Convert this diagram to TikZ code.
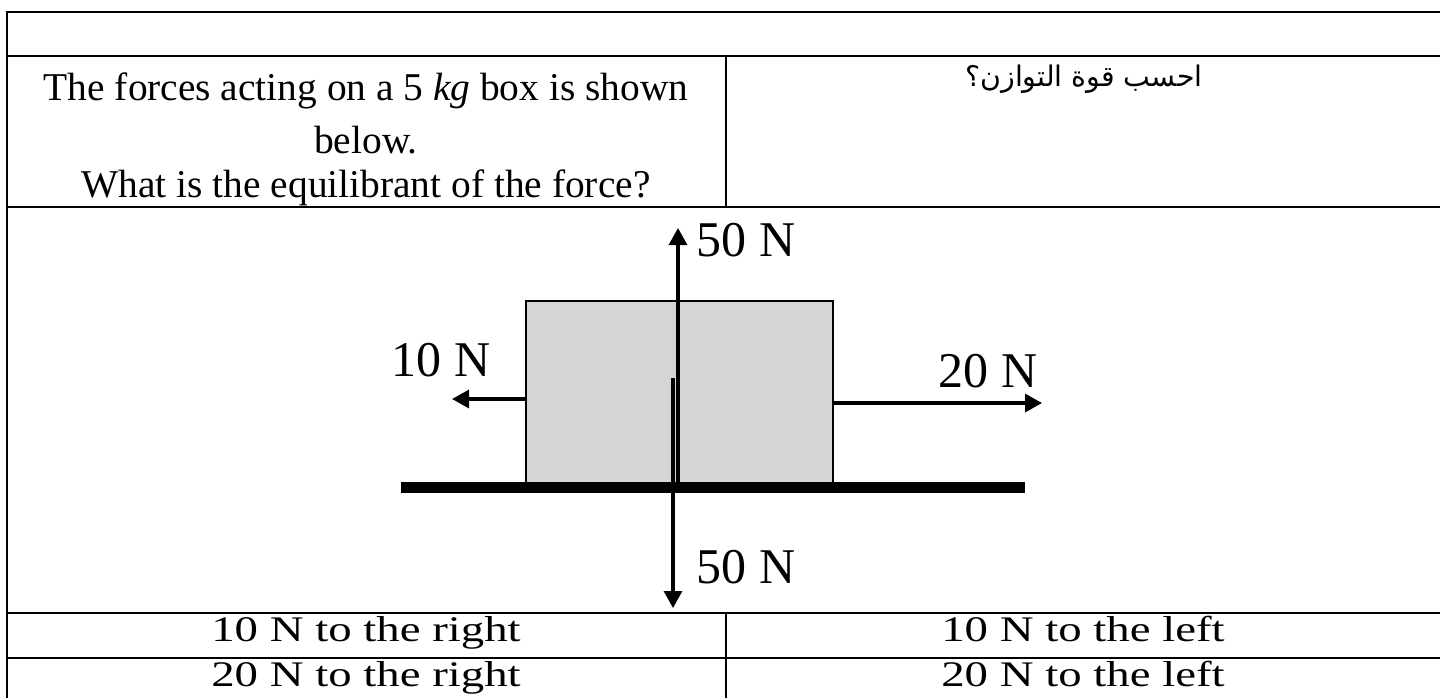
\documentclass[tikz,border=0pt]{standalone}
\usepackage{fontspec}
\setmainfont{Liberation Serif}
\newfontfamily\arabicfont[Script=Arabic]{DejaVu Sans}
\newfontfamily\ansfont[FakeStretch=1.3]{Liberation Serif}
\TeXXeTstate=1
\usetikzlibrary{arrows.meta}
\definecolor{boxgray}{RGB}{213,213,213}
\tikzset{
  gridline/.style={line width=0.8pt},
  force/.style={line width=1.6pt,-{Triangle[length=8.5pt,width=9pt]}},
  qtext/.style={anchor=base,inner sep=0pt,font=\fontsize{19.7}{24}\selectfont},
  ftext/.style={inner sep=0pt,font=\fontsize{25}{30}\selectfont},
  atext/.style={anchor=base,inner sep=0pt,font=\ansfont\fontsize{18}{21}\selectfont},
}
\begin{document}
\begin{tikzpicture}[x=0.5pt,y=-0.5pt]
\useasboundingbox (0,0) rectangle (1440,698);

\draw[gridline] (7,698) -- (7,12) -- (1440,12);
\draw[gridline] (7,56) -- (1440,56);
\draw[gridline] (7,207) -- (1440,207);
\draw[gridline] (7,613) -- (1440,613);
\draw[gridline] (7,658) -- (1440,658);
\draw[gridline] (726,56) -- (726,207);
\draw[gridline] (726,613) -- (726,698);

\node[qtext] (q1) at (366,100) {The forces acting on a 5 \textit{kg} box is shown};
\node[qtext] (q2) at (366,153) {below.};
\node[qtext] (q3) at (366,197) {What is the equilibrant of the force?};
\node[anchor=base,inner sep=0pt,font=\arabicfont\fontsize{14.2}{16}\selectfont] (qar) at (1084,86) {\beginR احسب قوة التوازن؟\endR};

\node[draw,line width=0.7pt,fill=boxgray,inner sep=0pt,minimum width=153.5pt,minimum height=91pt] (box) at (679.5,392) {};
\coordinate (gl) at (401,487);
\coordinate (gr) at (1025,487);
\draw[line width=5.5pt] (gl) -- (gr);

\coordinate (upfoot) at (678,485);
\coordinate (uptip) at (678,228);
\draw[force] (upfoot) -- (uptip);
\coordinate (dnfoot) at (673,378);
\coordinate (dntip) at (673,608);
\draw[force] (dnfoot) -- (dntip);
\coordinate (lefttip) at (452,399);
\draw[force] (box.west |- lefttip) -- (lefttip);
\coordinate (righttip) at (1042,403);
\draw[force] (box.east |- righttip) -- (righttip);

\node[ftext] (fup) at (746,240) {50 N};
\node[ftext] (fdn) at (746,567) {50 N};
\node[ftext] (fleft) at (441,360) {10 N};
\node[ftext] (fright) at (988,371) {20 N};

\node[atext] (a1) at (366,641) {10 N to the right};
\node[atext] (a2) at (1083,641) {10 N to the left};
\node[atext] (a3) at (366,686) {20 N to the right};
\node[atext] (a4) at (1083,686) {20 N to the left};
\end{tikzpicture}
\end{document}
